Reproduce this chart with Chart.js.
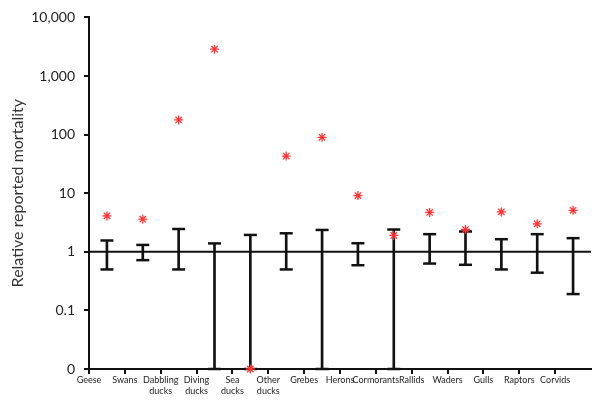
<!DOCTYPE html>
<html>
<head>
<meta charset="utf-8">
<script src="https://cdn.jsdelivr.net/npm/chart.js@4/dist/chart.umd.min.js"></script>
<style>
  body { margin: 0; background: #fff; }
  #wrap { width: 600px; height: 401px; }
</style>
</head>
<body>
<div id="wrap"><canvas id="chart" width="600" height="401"></canvas></div>
<script>
// Bird groups along the x axis
const categories = [
  "Geese", "Swans", ["Dabbling", "ducks"], ["Diving", "ducks"], ["Sea", "ducks"],
  ["Other", "ducks"], "Grebes", "Herons", "Cormorants", "Rallids",
  "Waders", "Gulls", "Raptors", "Corvids"
];

// Observed relative mortality (red asterisks); 0.01 = the "0" line
const observed = [4.1, 3.6, 178, 2870, 0.01, 43, 90, 9.1, 1.9, 4.7, 2.4, 4.8, 3.0, 5.1];

// Expected range (black whiskers)
const rangeLow = [0.50, 0.72, 0.50, 0.01, 0.01, 0.50, 0.01, 0.59, 0.01, 0.63, 0.60, 0.50, 0.44, 0.19];
const rangeHigh = [1.56, 1.31, 2.45, 1.39, 1.94, 2.07, 2.36, 1.40, 2.40, 2.00, 2.22, 1.64, 2.00, 1.71];

// Y axis ticks and their printed labels
const yTicks = [0.01, 0.1, 1, 10, 100, 1000, 10000];
const yTickLabels = ["0", "0.1", "1", "10", "100", "1,000", "10,000"];

const FONT = "Lato, 'Open Sans', sans-serif";

// marks sit half a step right of each label tick
const xs = categories.map((c, i) => i + 0.5);

const ctx = document.getElementById("chart").getContext("2d");

new Chart(ctx, {
  type: "scatter",
  data: {
    datasets: [
      {
        // asterisks, on top
        type: "scatter",
        data: xs.map((x, i) => ({ x: x, y: observed[i] })),
        pointStyle: "star",
        pointRadius: 4.5,
        borderColor: "#ff3333",
        backgroundColor: "#ff3333",
        borderWidth: 1.3,
        clip: false,
      },
      {
        // upper caps
        type: "scatter",
        data: xs.map((x, i) => ({ x: x, y: rangeHigh[i] })),
        pointStyle: "line",
        pointRadius: 6.5,
        borderColor: "#111",
        borderWidth: 2.5,
        clip: false,
      },
      {
        // lower caps
        type: "scatter",
        data: xs.map((x, i) => ({ x: x, y: rangeLow[i] })),
        pointStyle: "line",
        pointRadius: 6.5,
        borderColor: "#111",
        borderWidth: 2.5,
        clip: false,
      },
      {
        // whisker stems
        type: "bar",
        data: xs.map((x, i) => ({ x: x, y: [rangeLow[i], rangeHigh[i]] })),
        backgroundColor: "#111",
        barThickness: 2,
        grouped: false,
      },
      {
        // reference line at 1
        type: "line",
        data: [{ x: 0, y: 1 }, { x: categories.length, y: 1 }],
        borderColor: "#111",
        borderWidth: 2,
        pointRadius: 0,
        fill: false,
      },
    ],
  },
  options: {
    responsive: false,
    animation: false,
    events: [],
    layout: { padding: { top: 13, right: 8, bottom: 0, left: 0 } },
    plugins: {
      legend: { display: false },
      tooltip: { enabled: false },
    },
    scales: {
      x: {
        type: "linear",
        offset: false,
        min: 0,
        max: categories.length,
        afterBuildTicks: (scale) => {
          scale.ticks = categories.map((c, i) => ({ value: i }));
        },
        afterFit: (scale) => {
          scale.height = 32;
        },
        border: { color: "#111", width: 2 },
        grid: {
          offset: false,
          drawOnChartArea: false,
          color: "#111",
          lineWidth: 2,
          tickLength: 5,
        },
        ticks: {
          autoSkip: false,
          maxRotation: 0,
          padding: 1,
          color: "#222",
          font: { family: FONT, size: 9 },
          callback: (value) => categories[value],
        },
      },
      y: {
        type: "logarithmic",
        min: 0.01,
        max: 10000,
        afterBuildTicks: (scale) => {
          scale.ticks = yTicks.map((v) => ({ value: v }));
        },
        afterFit: (scale) => {
          scale.width = 89;
        },
        border: { color: "#111", width: 2 },
        grid: {
          drawOnChartArea: false,
          color: "#111",
          lineWidth: 2,
          tickLength: 5,
        },
        ticks: {
          padding: 9,
          color: "#222",
          font: { family: FONT, size: 14 },
          callback: (value) => yTickLabels[yTicks.indexOf(value)],
        },
        title: {
          display: true,
          text: "Relative reported mortality",
          color: "#333",
          font: { family: FONT, size: 16 },
          padding: { top: 8, bottom: 0 },
        },
      },
    },
  },
});
</script>
</body>
</html>
